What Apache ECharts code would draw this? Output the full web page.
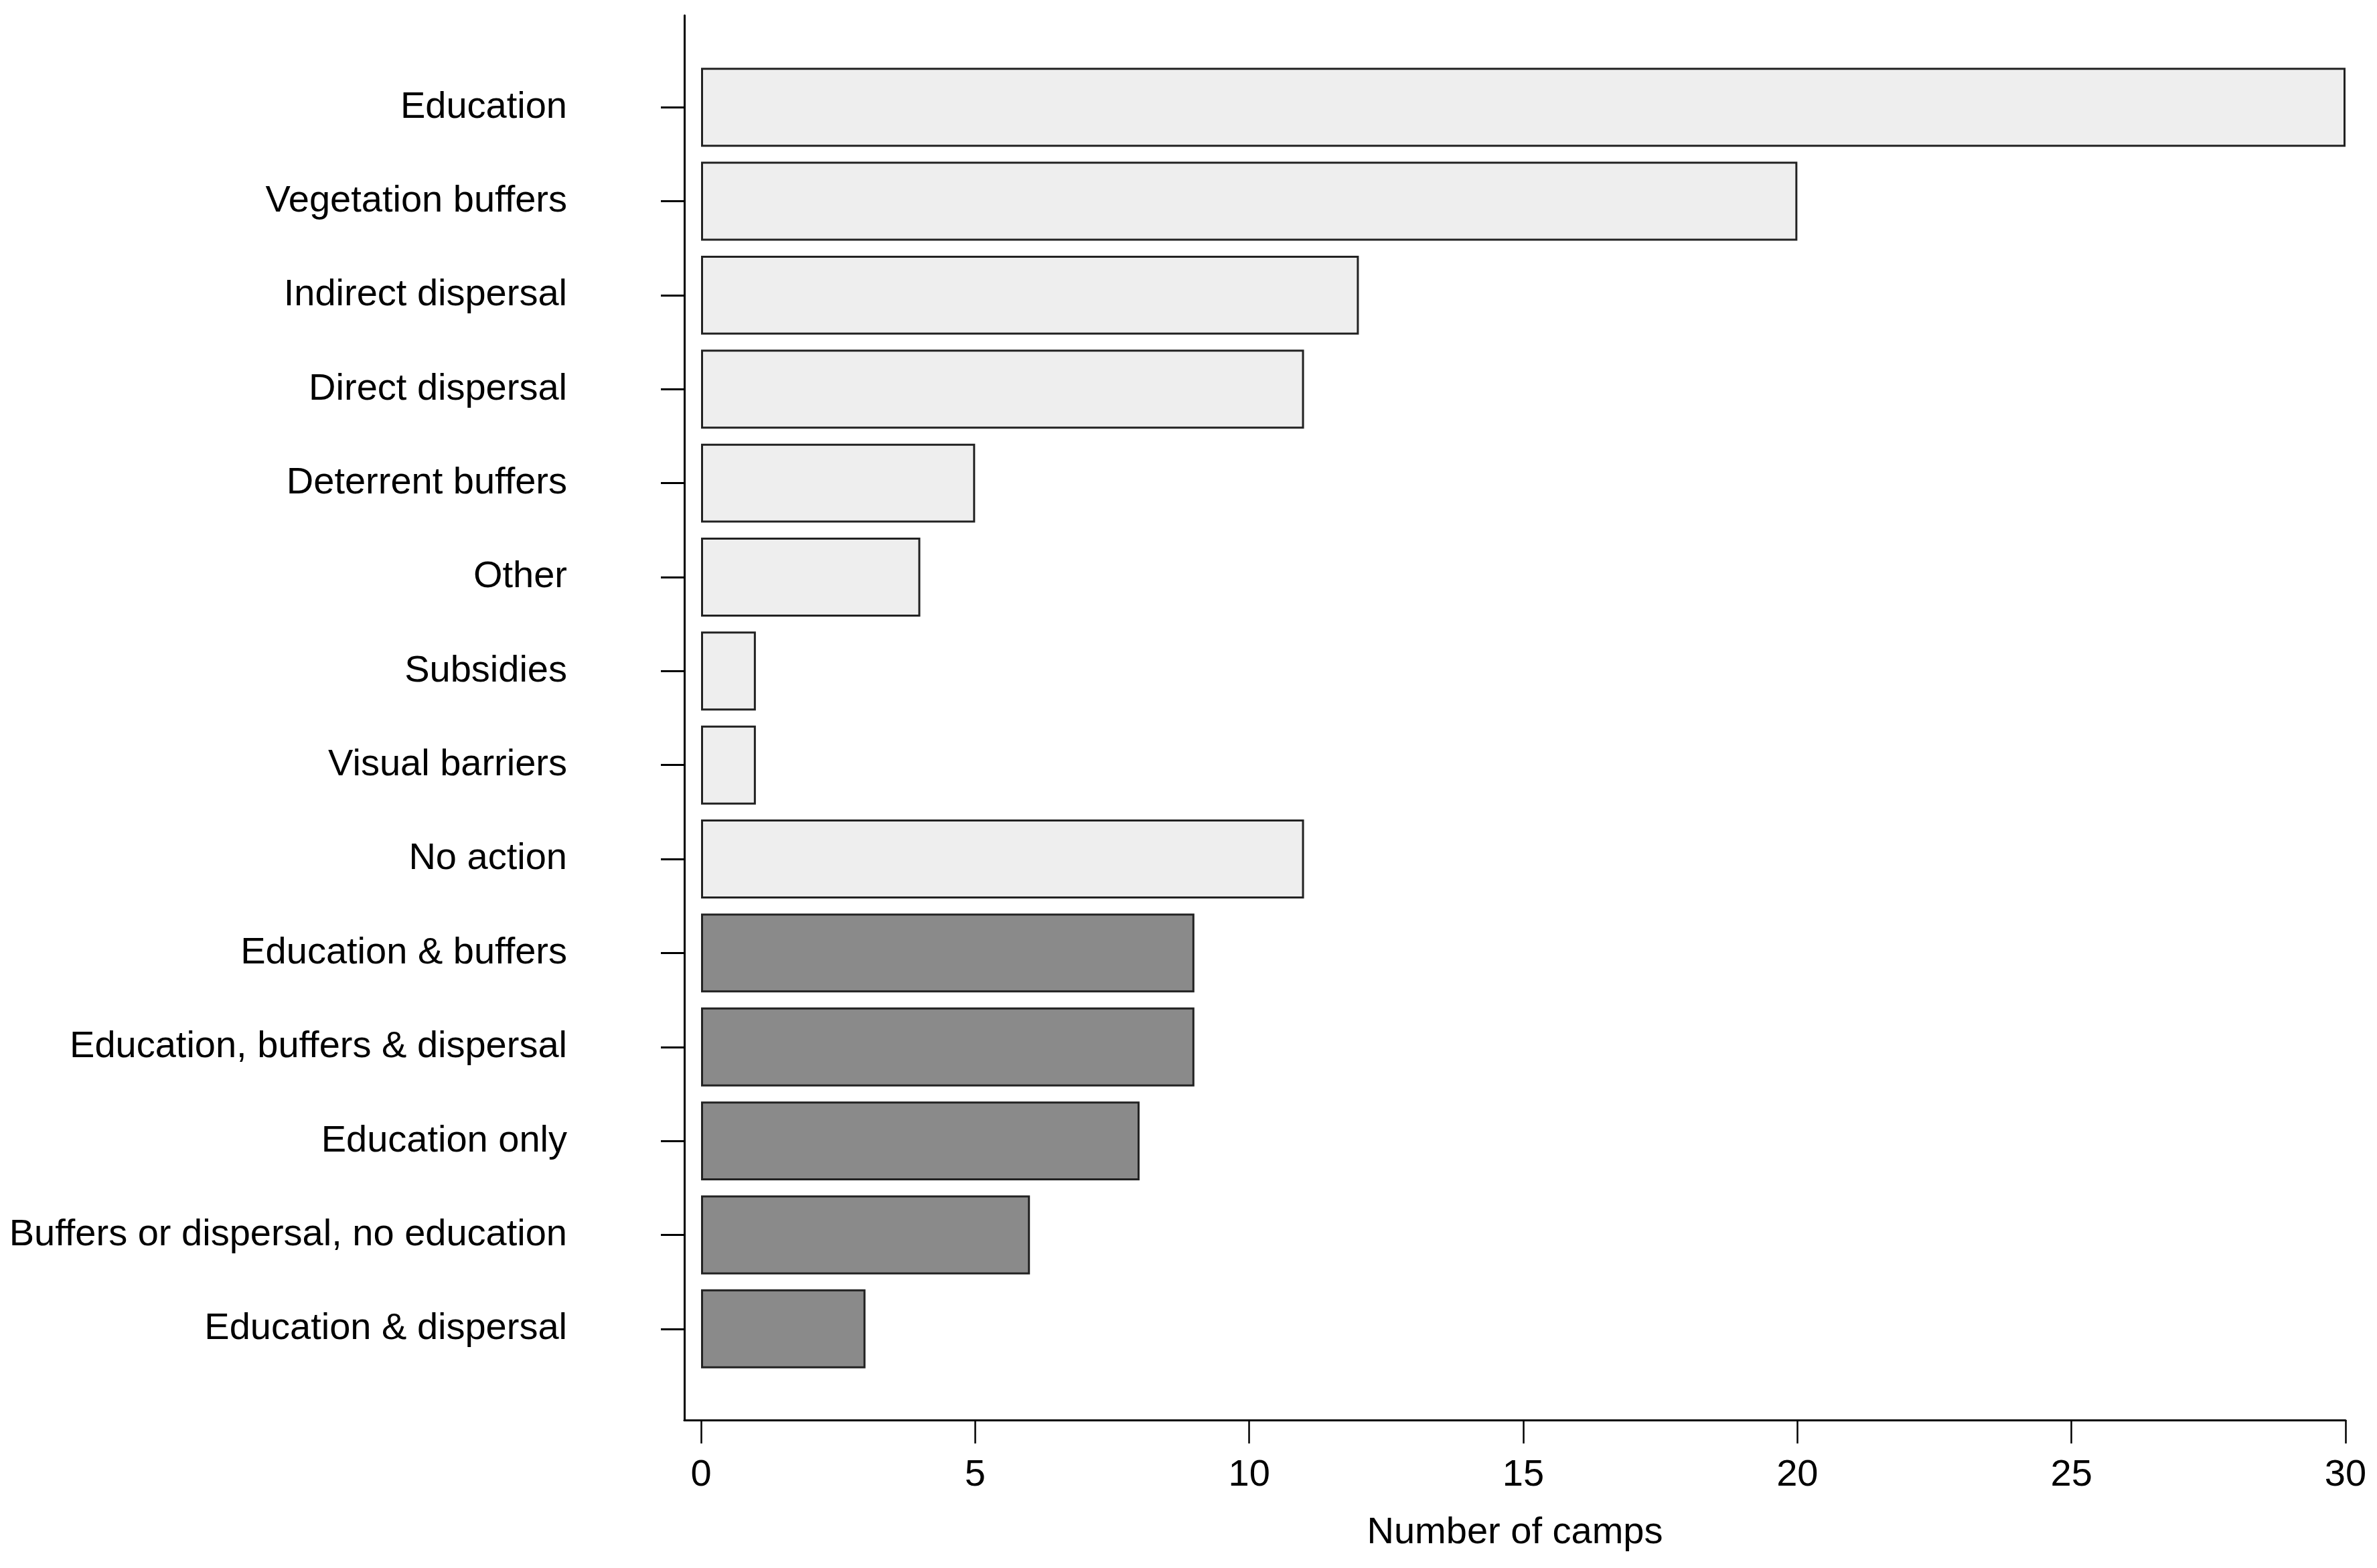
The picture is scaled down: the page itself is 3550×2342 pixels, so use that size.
<!DOCTYPE html>
<html>
<head>
<meta charset="utf-8">
<script src="https://cdn.jsdelivr.net/npm/echarts@6/dist/echarts.min.js"></script>
<style>
html,body{margin:0;padding:0;background:#fff;}
#chart{width:3550px;height:2342px;}
</style>
</head>
<body>
<div id="chart"></div>
<script>
// Individual management actions (light bars)
const singleCategories = ['Education','Vegetation buffers','Indirect dispersal','Direct dispersal','Deterrent buffers','Other','Subsidies','Visual barriers','No action'];
const singleValues = [30, 20, 12, 11, 5, 4, 1, 1, 11];
// Combined strategies (dark bars)
const comboCategories = ['Education & buffers','Education, buffers & dispersal','Education only','Buffers or dispersal, no education','Education & dispersal'];
const comboValues = [9, 9, 8, 6, 3];
// x-axis
const xMin = 0, xMax = 30, xInterval = 5;
const xAxisTitle = 'Number of camps';

const categories = singleCategories.concat(comboCategories);
const singleSeries = categories.map((c, i) => i < singleValues.length ? singleValues[i] : null);
const comboSeries = categories.map((c, i) => i >= singleValues.length ? comboValues[i - singleValues.length] : null);

// layout (pixels)
const axisX = 1022, zeroX = 1047, endX = 3503;
const padMin = -xMax * (zeroX - axisX) / (endX - zeroX); // small space between y-axis line and value 0

const FONT = 'Liberation Sans, Arial, Helvetica, sans-serif';
const FS = 56;
const chart = echarts.init(document.getElementById('chart'), null, {renderer: 'canvas'});
chart.setOption({
  backgroundColor: '#ffffff',
  animation: false,
  textStyle: {fontFamily: FONT, color: '#000'},
  grid: [
    {left: axisX, right: 3550 - endX, top: 90, bottom: 287, containLabel: false},
    {left: axisX, right: 3550 - endX, top: 23, bottom: 221, containLabel: false},
    {left: zeroX, right: 3550 - endX, top: 23, bottom: 221, containLabel: false}
  ],
  xAxis: [
    {
      gridIndex: 0, type: 'value', min: padMin, max: xMax,
      show: false, splitLine: {show: false}
    },
    {
      gridIndex: 1, type: 'value', min: 0, max: 1,
      position: 'bottom',
      axisLine: {show: true, onZero: false, lineStyle: {color: '#000', width: 3}},
      axisTick: {show: false}, axisLabel: {show: false}, splitLine: {show: false},
      name: xAxisTitle, nameLocation: 'middle', nameGap: 141,
      nameTextStyle: {fontSize: FS, color: '#000', fontFamily: FONT}
    },
    {
      gridIndex: 2, type: 'value', min: xMin, max: xMax, interval: xInterval,
      position: 'bottom',
      axisLine: {show: false, onZero: false},
      axisTick: {show: true, length: 35, lineStyle: {color: '#000', width: 2.5}},
      axisLabel: {show: true, margin: 55, fontSize: FS, color: '#000', fontFamily: FONT},
      splitLine: {show: false}
    }
  ],
  yAxis: [
    {
      gridIndex: 0, type: 'category', data: categories, inverse: true,
      position: 'left',
      axisLine: {show: false, onZero: false},
      axisTick: {show: true, alignWithLabel: true, length: 35, lineStyle: {color: '#000', width: 3}},
      axisLabel: {show: true, margin: 175, fontSize: FS, color: '#000', fontFamily: FONT},
      splitLine: {show: false}
    },
    {
      gridIndex: 1, type: 'value', min: 0, max: 1,
      position: 'left',
      axisLine: {show: true, onZero: false, lineStyle: {color: '#000', width: 3}},
      axisTick: {show: false}, axisLabel: {show: false}, splitLine: {show: false}
    },
    {
      gridIndex: 2, type: 'value', min: 0, max: 1, show: false, splitLine: {show: false}
    }
  ],
  series: [
    {
      name: 'Single actions', type: 'bar', xAxisIndex: 0, yAxisIndex: 0,
      stack: 'all', data: singleSeries, barCategoryGap: '16%',
      itemStyle: {color: '#eeeeee', borderColor: '#222222', borderWidth: 3}
    },
    {
      name: 'Combined strategies', type: 'bar', xAxisIndex: 0, yAxisIndex: 0,
      stack: 'all', data: comboSeries, barCategoryGap: '16%',
      itemStyle: {color: '#8a8a8a', borderColor: '#222222', borderWidth: 3}
    }
  ]
});
</script>
</body>
</html>
